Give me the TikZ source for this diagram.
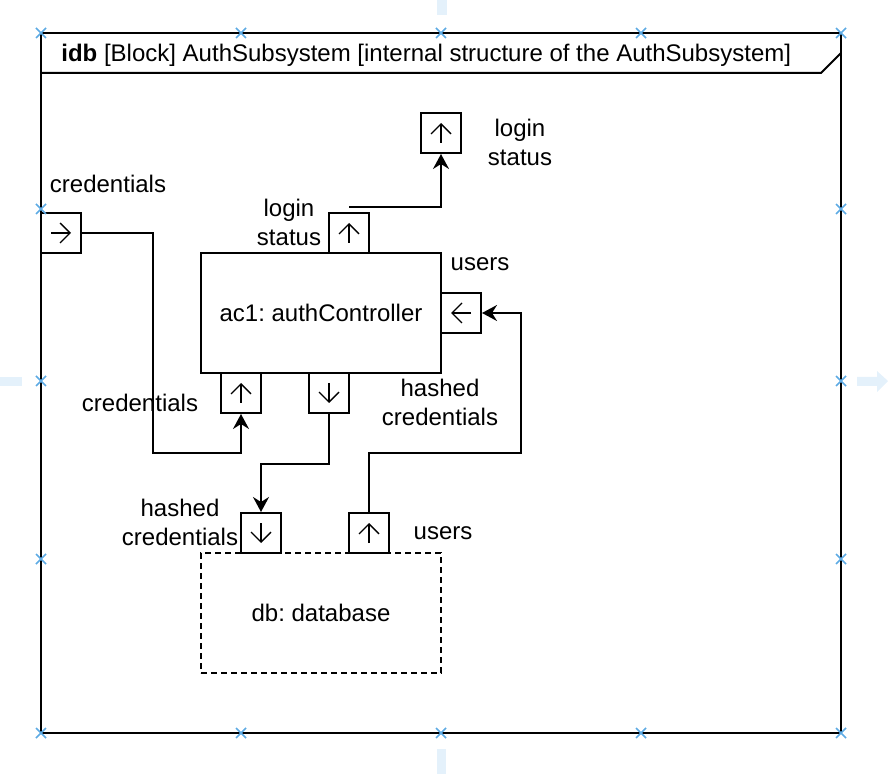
\documentclass[tikz,border=0pt]{standalone}
\usepackage{fontspec}
\setmainfont{Liberation Sans}
\frenchspacing
\usetikzlibrary{arrows.meta,positioning,calc}
\definecolor{hdl}{RGB}{93,170,228}
\definecolor{gde}{RGB}{228,241,251}
\tikzstyle{port} = [draw, line width=1pt, fill=white,
minimum size=20pt, inner sep=0pt]
\tikzstyle{part} = [draw, line width=1pt,
minimum width=120pt, minimum height=60pt, text centered]
\tikzstyle{lbl} = [align=center, inner sep=0pt, font=\fontsize{12}{14.5}\selectfont]
\tikzstyle{flow} = [line width=1pt, -{Stealth[length=7.5pt,width=8pt,inset=2.5pt]}]
\tikzstyle{glyph} = [line width=0.7pt, -{Straight Barb[length=5pt,width=10pt]}]
\tikzstyle{handle} = [hdl, line width=0.8pt]

\begin{document}
\begin{tikzpicture}[x=0.5pt, y=-0.5pt, font=\fontsize{12}{14.5}\selectfont]
      \useasboundingbox (0,0) rectangle (888,774);

      % editor guides
      \fill[gde] (437,0) rectangle (447,15);
      \fill[gde] (437,749) rectangle (446,774);
      \fill[gde] (0,377) rectangle (22,386);
      \fill[gde] (857,377) -- (877,377) -- (877,371) -- (888,381) -- (877,392) -- (877,386) -- (857,386) -- cycle;

      % frame
      \draw[line width=1pt] (41,33) rectangle (841,733);
      \draw[line width=1pt] (41,73) -- (821,73) -- (841,53);
      \node[lbl, anchor=west] (title) at (61,55)
        {\textbf{idb} [Block] AuthSubsystem [internal structure of the AuthSubsystem]};

      % parts
      \node[part] (ac1) at (321,313) {ac1: authController};
      \node[part, dash pattern=on 3pt off 2pt] (db) at (321,613) {db: database};

      % ports
      \node[port] (lsext)   at (441,133) {};
      \node[port] (credext) at (61,233)  {};
      \node[port] (lsac)    at (349,233) {};
      \node[port] (usersac) at (461,313) {};
      \node[port] (credac)  at (241,393) {};
      \node[port] (hashac)  at (329,393) {};
      \node[port] (hashdb)  at (261,533) {};
      \node[port] (usersdb) at (369,533) {};

      \foreach \p/\a in {lsext/90, credext/0, lsac/90, usersac/180,
                         credac/90, hashac/270, hashdb/270, usersdb/90}
        \draw[glyph] ([shift={(\a+180:5pt)}]\p.center) -- ([shift={(\a:5pt)}]\p.center);

      % labels
      \node[lbl] (lslbl1)   at (520,142) {login\\status};
      \node[lbl] (credlbl1) at (108,184) {credentials};
      \node[lbl] (lslbl2)   at (289,222) {login\\status};
      \node[lbl] (userlbl1) at (480,264) {users};
      \node[lbl] (credlbl2) at (140,403) {credentials};
      \node[lbl] (hashlbl1) at (440,402) {hashed\\credentials};
      \node[lbl] (hashlbl2) at (180,522) {hashed\\credentials};
      \node[lbl] (userlbl2) at (443,533) {users};

      % flows
      \draw[flow] (credext.east) -| (153,453) -| (credac.south);
      \draw[flow] ([yshift=2.5pt]lsac.north) -| (lsext.south);
      \draw[flow] (hashac.south) -- ++(0,50) -| (hashdb.north);
      \draw[flow] (usersdb.north) |- (521,453) |- (usersac.east);

      % selection handles
      \foreach \x/\y in {41/33, 241/33, 441/33, 641/33, 841/33,
                         41/209, 841/209, 41/381, 841/381, 41/559, 841/559,
                         41/733, 241/733, 441/733, 641/733, 841/733}
        \draw[handle] (\x-5,\y-5) -- (\x+5,\y+5) (\x-5,\y+5) -- (\x+5,\y-5);
    \end{tikzpicture}
\end{document}
